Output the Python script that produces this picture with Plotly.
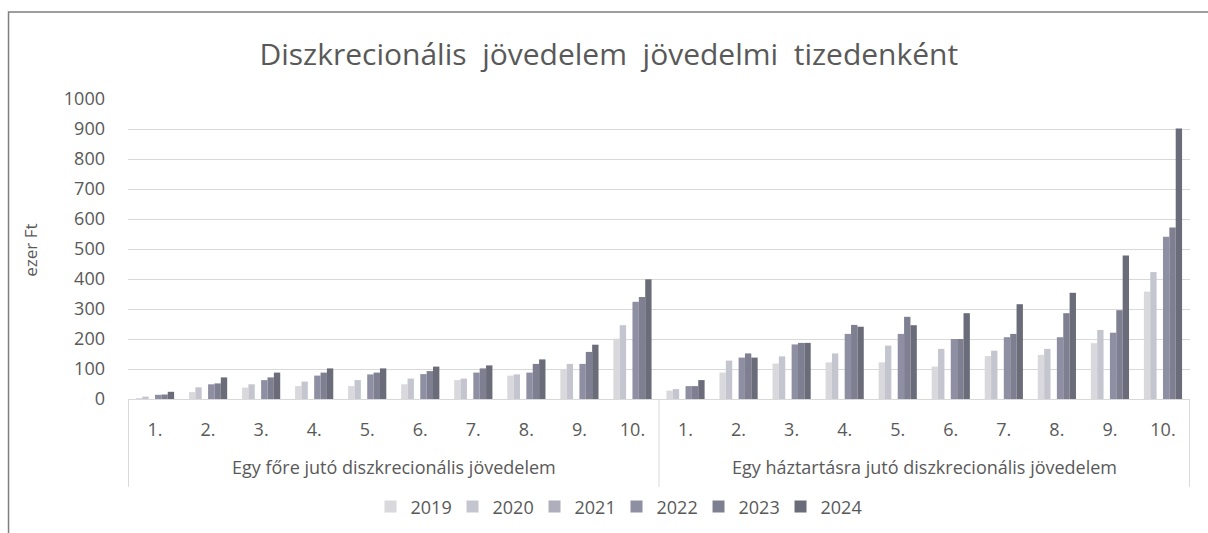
import plotly.graph_objects as go

deciles = ["1.", "2.", "3.", "4.", "5.", "6.", "7.", "8.", "9.", "10."]
groups = ["Egy főre jutó diszkrecionális jövedelem",
          "Egy háztartásra jutó diszkrecionális jövedelem"]
years = ["2019", "2020", "2021", "2022", "2023", "2024"]

# ezer Ft – per capita (first group), per household (second group); 2021: no data
per_capita_2019 = [3, 23, 38, 43, 43, 49, 63, 78, 97, 201]
per_capita_2020 = [8, 39, 49, 58, 63, 68, 68, 82, 117, 246]
per_capita_2021 = [None] * 10
per_capita_2022 = [14, 49, 63, 78, 82, 83, 88, 88, 117, 324]
per_capita_2023 = [15, 52, 72, 88, 88, 93, 102, 117, 157, 340]
per_capita_2024 = [24, 72, 88, 102, 102, 108, 112, 132, 181, 399]

household_2019 = [28, 88, 118, 122, 122, 108, 143, 147, 186, 358]
household_2020 = [33, 128, 142, 152, 178, 167, 161, 167, 230, 423]
household_2021 = [None] * 10
household_2022 = [43, 138, 182, 217, 217, 200, 206, 206, 221, 541]
household_2023 = [43, 152, 187, 247, 274, 200, 217, 286, 296, 572]
household_2024 = [63, 138, 187, 241, 246, 286, 316, 354, 478, 902]

colors = ["#d8d8dd", "#c5c5cf", "#aeaebd", "#8e8fa3", "#7e8092", "#6b6c7a"]

per_capita = [per_capita_2019, per_capita_2020, per_capita_2021,
              per_capita_2022, per_capita_2023, per_capita_2024]
household = [household_2019, household_2020, household_2021,
             household_2022, household_2023, household_2024]

# unique category keys, displayed as decile labels
x_keys = [f"{g}|{d}" for g in groups for d in deciles]
x_text = [d for g in groups for d in deciles]

FONT = "Open Sans"
TXT = "#595959"
GRID = "#d9d9d9"

fig = go.Figure()
for i, yr in enumerate(years):
    fig.add_trace(go.Bar(
        name=yr,
        x=x_keys,
        y=per_capita[i] + household[i],
        marker=dict(color=colors[i], line=dict(width=0)),
    ))

fig.update_layout(
    width=1208, height=533,
    margin=dict(l=128, r=18, t=99, b=134, autoexpand=False),
    paper_bgcolor="white", plot_bgcolor="white",
    barmode="group", bargap=0.28, bargroupgap=0,
    font=dict(family=FONT, color=TXT, size=18),
    title=dict(text="Diszkrecionális  jövedelem  jövedelmi  tizedenként",
               x=0.504, xanchor="center", y=0.897, yanchor="middle",
               yref="container",
               font=dict(family=FONT, size=30, color=TXT)),
    legend=dict(orientation="h", x=0.46, xanchor="center",
                yref="container", y=0.049, yanchor="middle",
                font=dict(family=FONT, size=18, color=TXT),
                itemwidth=30, entrywidth=37, traceorder="normal"),
    showlegend=True,
)

fig.update_xaxes(
    type="category",
    categoryorder="array", categoryarray=x_keys,
    tickvals=x_keys, ticktext=x_text,
    showgrid=False,
    showline=True, linecolor=GRID, linewidth=1,
    ticks="", ticklabelstandoff=14,
    tickfont=dict(family=FONT, size=18, color=TXT),
)
fig.update_yaxes(
    range=[0, 1000], dtick=100,
    showgrid=True, gridcolor=GRID, gridwidth=1,
    zeroline=False, showline=False, ticks="",
    ticklabelstandoff=22,
    tickfont=dict(family=FONT, size=18, color=TXT),
)

# group labels under the decile labels
n = len(deciles)
for gi, g in enumerate(groups):
    fig.add_annotation(text=g, xref="x", yref="paper",
                       x=gi * n + (n - 1) / 2, y=-0.227,
                       xanchor="center", yanchor="middle", showarrow=False,
                       font=dict(family=FONT, size=18, color=TXT))

# group dividers of the two-level category axis
for b in range(len(groups) + 1):
    fig.add_shape(type="line", xref="x", yref="paper",
                  x0=b * n - 0.5, x1=b * n - 0.5, y0=0, y1=-0.293,
                  line=dict(color=GRID, width=1))

fig.add_annotation(text="ezer Ft", textangle=-90,
                   xref="paper", yref="paper",
                   x=-0.0915, y=0.497, xanchor="center", yanchor="middle",
                   showarrow=False, font=dict(family=FONT, size=17, color=TXT))

# chart frame (left and top edges visible in the original crop)
fig.add_shape(type="rect", xref="paper", yref="paper",
              x0=-0.1125, x1=1.03, y0=-0.6, y1=1.29,
              line=dict(color="#7f7f7f", width=1.5), fillcolor="rgba(0,0,0,0)",
              layer="below")

fig.write_html("out.html", config={"displayModeBar": False},
               post_script="document.body.style.margin='0px';")
